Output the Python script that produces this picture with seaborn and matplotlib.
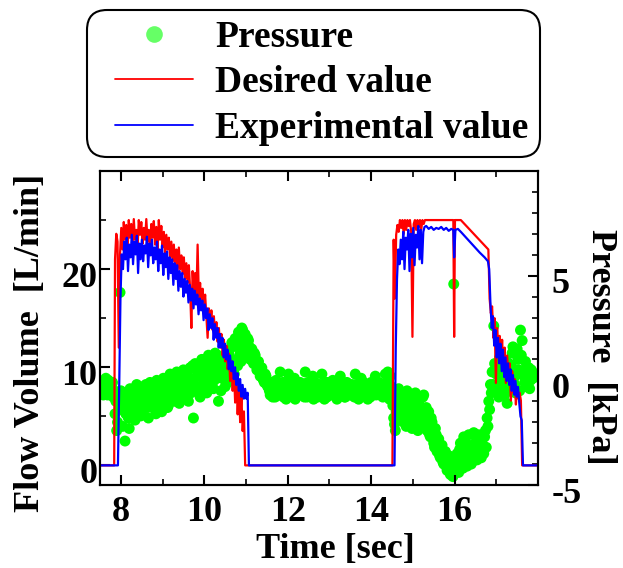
import numpy as np
import pandas as pd
import matplotlib
matplotlib.use("Agg")
import matplotlib.pyplot as plt
import seaborn as sns
from matplotlib.ticker import MultipleLocator
from matplotlib.lines import Line2D
from matplotlib.patches import FancyBboxPatch
from matplotlib.transforms import ScaledTranslation

# ---------------- data ----------------
# Desired value (red), flow [L/min]
red_seg0_t = [7.5, 7.84]
red_seg0_v = [0.0, 0.0]
red_noisy1 = [21, 23.6, 22.8, 12.0, 21.5, 24.2, 22.0, 24.8, 23.0, 24.5,
              21.8, 25.0, 23.2, 24.6, 22.4, 25.1, 23.0, 24.0, 22.2, 25.0,
              23.5, 24.8, 22.6, 24.2, 23.0, 25.1, 22.8, 24.0, 22.0, 24.6,
              23.2, 24.9, 22.5, 24.3, 22.0, 25.0, 23.0, 24.4, 22.2, 23.8,
              21.6, 23.5, 22.0, 23.2, 21.2, 22.8, 20.8, 22.5, 20.4, 22.0,
              19.8, 22.2, 20.0, 21.4, 19.5, 21.2, 19.0, 20.6, 18.6, 20.4,
              18.0, 14.0, 19.8, 17.6, 19.6, 17.0, 22.5, 17.0, 18.6, 16.4,
              18.0, 15.8, 17.4, 15.2, 13.0, 16.0, 14.4, 15.8, 13.8, 15.2,
              13.2, 14.6, 12.6, 14.0, 12.0, 13.4, 11.2, 12.8, 10.6, 12.2,
              9.8, 11.4, 8.6, 10.6, 7.6, 9.8, 6.4, 9.0, 5.2, 8.0,
              4.4, 7.0, 3.5, 5.5, 0.0]
red_noisy1_span = [7.86, 10.98]
red_seg2_t = [11.0, 14.50]
red_seg2_v = [0.0, 0.0]
red_noisy2 = [0.0, 23.0, 17.0, 23.5, 24.5, 23.8, 25.0, 24.2, 25.0, 23.6,
              25.0, 24.0, 25.0, 24.4, 25.0, 23.8, 13.1, 24.6, 25.0, 24.0,
              25.0, 24.3, 25.0, 24.0, 25.0, 24.6, 25.0]
red_noisy2_span = [14.51, 15.29]
red_plateau_t = [15.32, 15.97, 15.99, 16.01, 16.15, 16.81]
red_plateau_v = [25.0, 25.0, 13.1, 25.0, 25.0, 22.0]
red_noisy3 = [17.0, 15.5, 16.2, 13.0, 15.0, 8.4, 14.0, 11.8, 13.2,
              10.4, 12.8, 9.6, 12.0, 8.4, 11.2, 9.0, 10.4, 6.6, 9.6,
              7.4, 8.8, 6.2, 8.0, 6.8, 7.4, 6.6, 0.0]
red_noisy3_span = [16.84, 17.62]
red_seg6_t = [17.64, 18.0]
red_seg6_v = [0.0, 0.0]

# Experimental value (blue), flow [L/min]
blue_seg0_t = [7.5, 7.92]
blue_seg0_v = [0.0, 0.0]
blue_noisy1 = [0.0, 8.0, 17.0, 21.5, 20.0, 22.8, 21.0, 23.2, 19.8, 22.5,
               21.2, 23.5, 20.5, 22.8, 21.5, 23.4, 19.6, 22.6, 21.0, 23.0,
               20.8, 22.4, 21.6, 23.3, 20.2, 22.6, 21.4, 23.0, 20.6, 22.2,
               21.0, 22.8, 19.8, 22.0, 20.6, 22.4, 19.4, 21.6, 20.2, 21.8,
               19.0, 21.2, 19.6, 21.0, 18.4, 20.6, 19.0, 20.4, 17.8, 19.8,
               18.2, 19.6, 17.2, 19.0, 17.6, 18.8, 16.6, 18.4, 16.8, 18.0,
               16.0, 17.8, 16.4, 17.4, 15.4, 17.0, 15.8, 16.8, 14.8, 16.4,
               15.0, 16.0, 13.8, 15.4, 14.0, 15.0, 12.8, 14.4, 13.0, 14.0,
               12.0, 13.4, 12.0, 13.0, 11.0, 12.4, 10.8, 11.8, 9.8, 11.2,
               9.6, 10.6, 8.8, 10.0, 8.2, 9.4, 7.6, 8.8, 7.0, 8.2,
               6.8, 7.8, 6.8, 7.4, 0.0]
blue_noisy1_span = [7.93, 11.07]
blue_seg2_t = [11.09, 14.55]
blue_seg2_v = [0.0, 0.0]
blue_noisy2 = [0.0, 12.0, 19.0, 22.0, 20.5, 23.0, 21.0, 23.8, 20.0, 23.2,
               22.0, 24.0, 19.8, 23.6, 21.2, 24.2, 20.4, 23.5, 22.2, 24.4,
               21.0, 24.0, 20.6, 23.8, 24.3]
blue_noisy2_span = [14.56, 15.28]
blue_plateau_t = [15.32, 15.38, 15.44, 15.50, 15.56, 15.62, 15.68, 15.74,
                  15.80, 15.86, 15.92, 15.97, 15.99, 16.02, 16.08, 16.15,
                  16.30, 16.45, 16.60, 16.72, 16.80]
blue_plateau_v = [24.4, 24.1, 24.3, 24.0, 24.2, 24.1, 24.3, 24.0,
                  24.2, 23.9, 24.1, 24.0, 21.2, 24.0, 24.1, 23.8,
                  23.1, 22.4, 21.7, 21.2, 20.8]
blue_noisy3 = [20.0, 16.5, 14.0, 15.2, 12.2, 13.8, 11.0, 13.0, 10.4, 12.4,
               9.6, 11.8, 9.0, 11.0, 8.6, 10.4, 8.2, 9.8, 7.6, 9.2,
               7.2, 8.6, 7.0, 8.0, 6.4, 5.0, 4.6, 0.0]
blue_noisy3_span = [16.83, 17.64]
blue_seg6_t = [17.66, 18.0]
blue_seg6_v = [0.0, 0.0]

# Pressure (green dots) [kPa] -- two interleaved sample sets
p1 = [-0.4, -0.1, -0.7, -0.3, -0.6, 0.0, -0.5, -0.2, -0.8, -1.6,
      -2.4, -0.9, 4.2, -1.4, -0.6, -2.9, -1.0, -1.8, -0.4, -1.3,
      -0.8, -1.9, -0.2, -1.1, -0.6, -1.6, -0.3, -1.2, -0.7, -1.8,
      -0.1, -1.0, -0.5, -1.4, 0.0, -0.9, -0.3, -1.5, 0.1, -0.7,
      -0.2, -1.2, 0.3, -0.6, -0.1, -1.0, 0.4, -0.4, 0.0, -0.9,
      0.5, -0.3, 0.2, -1.0, 0.6, -0.2, -1.8, 0.8, -0.4, 0.3,
      -0.8, 1.0, 0.0, 0.6, -0.6, 1.2, 0.2, 0.8, -0.4, 1.3,
      0.4, -1.0, 0.9, 0.1, 1.1, -0.3, 0.7, 1.4, 0.2, 1.8,
      0.5, 2.0, 1.0, 2.3, 1.3, 2.5, 1.6, 2.2, 1.2, 1.9,
      1.0, 1.5, 0.8, 1.2, 0.5, 0.9, 0.2, 0.6, 0.0, 0.3,
      -0.2]
p1_span = [7.50, 11.50]
p1b = [-0.2, -0.6, -0.4, 0.1, -0.7, -0.3, -0.6, -0.1, -0.5, -1.0,
       -2.0, -1.3, -0.5, -2.2, -1.1, -1.6, -0.7, -2.3, -1.0, -0.5,
       -1.5, -0.9, -1.2, -0.4, -1.7, -0.8, -1.0, -0.2, -1.3, -0.6,
       -1.1, -0.4, -0.9, -1.6, -0.3, -0.7, -1.2, -0.2, -0.8, -0.5,
       -1.3, 0.0, -0.5, -0.9, 0.2, -0.6, -0.3, -1.1, 0.3, -0.4,
       -0.1, -0.8, 0.4, -0.2, -0.6, 0.7, 0.1, -0.5, 0.5, -0.3,
       0.8, 0.2, -0.4, 0.9, 0.3, -0.2, 1.0, 0.5, 0.0, 0.7,
       1.2, 0.3, -0.5, 0.6, 1.0, 0.4, -0.1, 1.2, 0.8, 1.6,
       0.3, 1.7, 0.7, 2.1, 0.9, 2.4, 1.9, 1.4, 2.0, 1.6,
       1.3, 1.1, 1.3, 0.9, 0.7, 0.4, 0.5, 0.1, -0.1, 0.2,
       -0.3]
p1b_span = [7.52, 11.52]
p2 = [-0.3, -0.7, -0.1, -0.5, -0.8, -0.2, -0.6, 0.4, -0.4, -0.8,
      -0.1, -0.5, 0.3, -0.7, -0.2, -0.6, -0.9, -0.3, -0.5, -0.1,
      -0.7, -0.4, 0.4, -0.8, -0.2, -0.6, -0.3, -0.9, -0.1, -0.5,
      -0.7, -0.2, 0.3, -0.6, -0.4, -0.8, -0.1, -0.5, -0.3, -0.7,
      -0.2, -0.9, -0.4, 0.2, -0.6, -0.3, -0.8, -0.1, -0.5, -0.7,
      -0.2, -0.4, 0.3, -0.6, -0.9, -0.3, -0.5, -0.1, -0.7, -0.4,
      -0.2, -0.8, -0.3, -0.6, 0.2, -0.5, -0.1, -0.7, -0.4, -0.2,
      0.3, -0.6, 0.1]
p2_span = [11.54, 14.42]
p2b = [-0.5, -0.2, -0.8, -0.4, 0.0, -0.6, -0.3, -0.7, -0.1, -0.5,
       -0.9, -0.3, -0.6, -0.2, -0.8, 0.1, -0.4, -0.7, -0.2, -0.6,
       -0.3, -0.8, -0.5, -0.1, -0.7, -0.4, 0.2, -0.6, -0.3, -0.8,
       -0.4, -0.6, -0.2, -0.9, -0.1, -0.5, -0.3, -0.7, 0.0, -0.4,
       -0.6, -0.3, -0.7, -0.5, -0.1, -0.8, -0.4, -0.2, -0.6, -0.3,
       -0.5, -0.8, -0.2, -0.4, -0.6, 0.1, -0.7, -0.3, -0.5, -0.9,
       -0.4, -0.1, -0.6, -0.3, -0.7, -0.2, -0.5, -0.3, -0.8, -0.4,
       -0.1, 0.4, -0.9]
p2b_span = [11.56, 14.44]
p3 = [0.2, -0.6, -1.8, -2.4, -1.2, -0.4, -1.6, -0.8, -2.0, -1.1,
      -0.5, -1.7, -0.9, -2.3, -1.3, -0.6, -1.9, -1.0, -2.2, -1.4,
      -0.7, -1.8, -2.4, -1.5, -2.7, -2.0, -3.0, -2.3, -3.4, -2.8,
      -3.7, -3.1, -4.0, -3.4, -4.3, -3.6, -4.5, -3.9, 4.6, -4.2,
      -3.5, -4.4, -3.0, -3.9, -2.7, -3.6, -4.1, -2.6, -3.4, -3.9,
      -2.5, -3.2, -3.8, -2.6, -3.3, -2.8, -3.5, -2.4, -1.8, -1.0,
      -0.2]
p3_span = [14.46, 16.86]
p3b = [-0.3, -1.2, -2.1, -1.5, -0.7, -1.9, -1.1, -0.6, -1.4, -2.2,
       -0.9, -1.3, -2.0, -0.7, -1.6, -1.0, -2.4, -1.2, -1.7, -0.8,
       -2.0, -1.3, -1.9, -2.6, -1.8, -2.4, -3.2, -2.6, -3.0, -3.6,
       -3.2, -3.9, -3.5, -4.1, -3.8, -4.4, -4.0, -4.6, -4.3, -3.8,
       -4.1, -3.3, -3.8, -4.2, -3.3, -3.0, -3.7, -3.2, -4.0, -3.1,
       -3.6, -2.9, -3.4, -3.0, -3.7, -3.1, -2.7, -3.2, -2.2, -1.4,
       -0.6]
p3b_span = [14.48, 16.88]
p4 = [0.4, 2.6, -0.3, 0.6, -0.8, 0.2, 1.0, -0.5, 0.4, -1.1,
      0.8, -0.2, 1.3, 0.1, -0.6, 1.5, 0.5, 2.4, 1.9, 0.2,
      0.9, -0.3, 0.6, 0.0, 0.4]
p4_span = [16.90, 17.86]
p4b = [-0.2, 0.8, 0.3, -0.6, 1.1, -0.1, 0.5, -0.7, 0.9, 0.2,
       -0.4, 0.7, 1.6, -0.2, 0.4, 1.0, -0.5, 1.2, 0.3, -0.1,
       0.6, 0.2, -0.4, 0.5, 0.1]
p4b_span = [16.92, 17.88]

x_ticks = [8, 10, 12, 14, 16]
flow_ticks = [0, 10, 20]
pressure_ticks = [-5, 0, 5]
legend_labels = ["Pressure", "Desired value", "Experimental value"]


def series(parts):
    ts, vs = [], []
    for kind, a, b in parts:
        if kind == "pts":
            ts.extend(a)
            vs.extend(b)
        else:  # values sampled evenly over a time span
            ts.extend(np.linspace(b[0], b[1], len(a)))
            vs.extend(a)
    return pd.DataFrame({"t": ts, "v": vs})


red_df = series([("pts", red_seg0_t, red_seg0_v),
                 ("span", red_noisy1, red_noisy1_span),
                 ("pts", red_seg2_t, red_seg2_v),
                 ("span", red_noisy2, red_noisy2_span),
                 ("pts", red_plateau_t, red_plateau_v),
                 ("span", red_noisy3, red_noisy3_span),
                 ("pts", red_seg6_t, red_seg6_v)])
blue_df = series([("pts", blue_seg0_t, blue_seg0_v),
                  ("span", blue_noisy1, blue_noisy1_span),
                  ("pts", blue_seg2_t, blue_seg2_v),
                  ("span", blue_noisy2, blue_noisy2_span),
                  ("pts", blue_plateau_t, blue_plateau_v),
                  ("span", blue_noisy3, blue_noisy3_span),
                  ("pts", blue_seg6_t, blue_seg6_v)])
pres_df = series([("span", p1, p1_span), ("span", p1b, p1b_span),
                  ("span", p2, p2_span), ("span", p2b, p2b_span),
                  ("span", p3, p3_span), ("span", p3b, p3b_span),
                  ("span", p4, p4_span), ("span", p4b, p4b_span)])

# ---------------- style ----------------
sns.set_theme(style="white")
plt.rcParams["font.family"] = ["Liberation Serif", "DejaVu Serif"]
plt.rcParams["font.weight"] = "bold"
plt.rcParams["axes.labelweight"] = "bold"
plt.rcParams["axes.unicode_minus"] = False
plt.rcParams["axes.edgecolor"] = "black"
plt.rcParams["axes.labelcolor"] = "black"
plt.rcParams["text.color"] = "black"
plt.rcParams["axes.linewidth"] = 1.5
plt.rcParams["xtick.color"] = "black"
plt.rcParams["ytick.color"] = "black"
plt.rcParams["xtick.labelcolor"] = "black"
plt.rcParams["ytick.labelcolor"] = "black"

fig = plt.figure(figsize=(6.23, 5.68), dpi=100)
ax1 = fig.add_axes([100 / 623, 1 - 485 / 568, 438 / 623, 314 / 568])
ax2 = ax1.twinx()
ax1.set_zorder(2)
ax2.set_zorder(1)
ax1.patch.set_visible(False)

sns.scatterplot(data=pres_df, x="t", y="v", ax=ax2, color="#00ff00",
                s=62, edgecolor="none", linewidth=0, legend=False)
sns.lineplot(data=red_df, x="t", y="v", ax=ax1, color="#ff0000",
             linewidth=1.6, estimator=None, sort=False, legend=False)
sns.lineplot(data=blue_df, x="t", y="v", ax=ax1, color="#0000ff",
             linewidth=1.6, estimator=None, sort=False, legend=False)

ax1.set_xlim(7.5, 18.0)
ax1.set_ylim(-2, 30)
ax2.set_ylim(-5, 10)

ax1.set_xticks(x_ticks)
ax1.set_yticks(flow_ticks)
ax2.set_yticks(pressure_ticks)
ax1.xaxis.set_minor_locator(MultipleLocator(1))
ax1.yaxis.set_minor_locator(MultipleLocator(5))
ax2.yaxis.set_minor_locator(MultipleLocator(1))

ax1.tick_params(axis="x", which="both", direction="in", top=True, bottom=True,
                labelsize=26, pad=8)
ax1.tick_params(axis="y", which="both", direction="in", left=True, right=False,
                labelsize=26, pad=2)
ax2.tick_params(axis="y", which="both", direction="in", right=True, left=False,
                labelsize=26, pad=10)
for ax in (ax1, ax2):
    ax.tick_params(which="major", length=7, width=1.5)
    ax.tick_params(which="minor", length=4, width=1.2)
    for sp in ax.spines.values():
        sp.set_linewidth(1.5)
        sp.set_color("black")
    for lab in ax.get_xticklabels() + ax.get_yticklabels():
        lab.set_fontweight("bold")

# y tick labels sit slightly below their ticks in the reference
shift = ScaledTranslation(0, -0.05, fig.dpi_scale_trans)
for ax in (ax1, ax2):
    for tk in ax.yaxis.get_major_ticks():
        tk.label1.set_transform(tk.label1.get_transform() + shift)
        tk.label2.set_transform(tk.label2.get_transform() + shift)

ax1.set_xlabel("Time [sec]", fontsize=26, fontweight="bold", va="top")
ax1.xaxis.set_label_coords(0.537, -0.153)
ax1.set_ylabel("Flow Volume  [L/min]", fontsize=26, fontweight="bold")
ax1.yaxis.set_label_coords(-0.122, 0.452)
ax2.set_ylabel("Pressure  [kPa]", fontsize=26, fontweight="bold",
               rotation=270, va="bottom")
ax2.yaxis.set_label_coords(1.105, 0.44)

# legend: rounded frame drawn as its own patch, entries without a frame
box = FancyBboxPatch((0.87, (568 - 157) / 100), 4.53, 1.47,
                     boxstyle="round,pad=0,rounding_size=0.2",
                     transform=fig.dpi_scale_trans, facecolor="white",
                     edgecolor="black", linewidth=1.5, zorder=0)
fig.patches.append(box)

handles = [Line2D([], [], linestyle="none", marker="o", markersize=12,
                  markerfacecolor="#66ff66", markeredgecolor="none"),
           Line2D([], [], color="#ff0000", linewidth=1.3),
           Line2D([], [], color="#0000ff", linewidth=1.3)]
leg = fig.legend(handles, legend_labels, loc="upper left",
                 bbox_to_anchor=(115 / 623, 1 - 20 / 568),
                 prop={"family": "Liberation Serif", "weight": "bold", "size": 27},
                 frameon=False, handlelength=2.08, handletextpad=0.59,
                 labelspacing=0.28, borderpad=0, borderaxespad=0)
for txt in leg.get_texts():
    txt.set_color("black")

fig.savefig("out.png", dpi=100)
